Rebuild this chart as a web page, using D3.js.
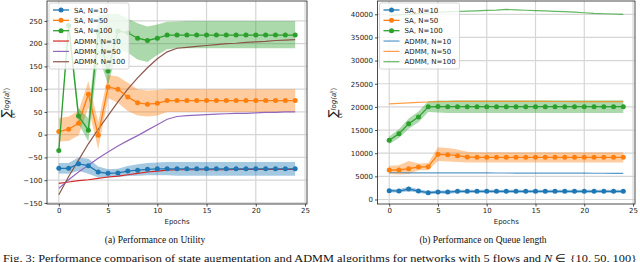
<!DOCTYPE html>
<html>
<head>
<meta charset="utf-8">
<script src="https://cdn.jsdelivr.net/npm/d3@7"></script>
<style>
body { margin: 0; background: #fff; }
svg { display: block; font-family: "DejaVu Sans", sans-serif; }
</style>
</head>
<body>
<div class="chart"></div>
<script>
var epochs = [0,1,2,3,4,5,6,7,8,9,10,11,12,13,14,15,16,17,18,19,20,21,22,23,24];
var xTicks = [0, 5, 10, 15, 20, 25];

// (a) utility
var utilTicks = [-150, -100, -50, 0, 50, 100, 150, 200, 250];
var utilSA10   = [-74,-74,-64,-68,-82,-85,-84,-80,-78,-76,-75,-75,-75,-75,-75,-75,-75,-75,-75,-75,-75,-75,-75,-75,-75];
var utilSA10Hi = [-62,-62,-50,-53,-70,-76,-75,-69,-65,-62,-61,-60,-60,-60,-60,-60,-60,-60,-60,-60,-60,-60,-60,-60,-60];
var utilSA10Lo = [-85,-86,-79,-86,-94,-94,-93,-91,-90,-89,-89,-89,-90,-90,-90,-90,-90,-90,-90,-90,-90,-90,-90,-90,-90];
var utilSA50   = [7,12,25,89,-1,105,100,83,70,67,69,75,75,75,75,75,75,75,75,75,75,75,75,75,75];
var utilSA50Hi = [36,40,52,118,28,131,128,114,100,97,98,100,100,100,100,100,100,100,100,100,100,100,100,100,100];
var utilSA50Lo = [-15,-14,-2,60,-32,80,70,52,42,40,42,50,50,50,50,50,50,50,50,50,50,50,50,50,50];
var utilSA100   = [-35,240,41,10,225,140,228,224,212,207,212,219,219,219,219,219,219,219,219,219,219,219,219,219,219];
var utilSA100Hi = [-30,252,58,36,262,266,266,255,245,238,242,248,249,250,250,250,250,250,250,250,250,250,250,250,250];
var utilSA100Lo = [-40,228,24,-15,175,110,190,180,165,160,175,188,190,190,190,190,190,190,190,190,190,190,190,190,190];
var utilADMM10  = [-107,-104,-101,-99,-96,-93,-91,-88,-85,-82,-80,-78,-77,-77,-77,-77,-77,-77,-76,-76,-76,-76,-76,-76,-76];
var utilADMM50  = [-118,-99,-82,-67,-52,-38,-25,-13,-2,10,22,34,40,42,43,44,45,46,47,47,48,49,49,50,50];
var utilADMM100 = [-132,-92,-56,-20,12,42,72,100,125,147,167,182,190,192,194,196,198,200,201,203,204,205,207,208,209];

// (b) queue length
var queueTicks = [0, 5000, 10000, 15000, 20000, 25000, 30000, 35000, 40000];
var queueSA10   = [1900,1830,2270,1830,1470,1620,1600,1770,1770,1760,1760,1770,1770,1770,1770,1770,1770,1770,1770,1770,1770,1770,1770,1770,1770];
var queueSA10Hi = [2250,2200,2750,2200,1850,1950,1950,2100,2120,2120,2120,2130,2130,2130,2130,2130,2130,2130,2130,2130,2130,2130,2130,2130,2130];
var queueSA10Lo = [1550,1450,1800,1450,1100,1300,1250,1420,1420,1400,1400,1410,1410,1410,1410,1410,1410,1410,1410,1410,1410,1410,1410,1410,1410];
var queueSA50   = [6370,6370,6660,7020,7090,9760,9690,9470,9180,9110,9100,9100,9100,9100,9100,9100,9100,9100,9100,9100,9100,9100,9100,9100,9100];
var queueSA50Hi = [7300,7400,8300,7800,7900,11300,11100,10800,10300,10200,10200,10200,10200,10200,10200,10200,10200,10200,10200,10200,10200,10200,10200,10200,10200];
var queueSA50Lo = [5500,5400,5500,6300,6300,8300,8200,8100,8000,8000,8000,8000,8000,8000,8000,8000,8000,8000,8000,8000,8000,8000,8000,8000,8000];
var queueSA100   = [12800,14200,16380,17800,20020,20080,20050,20050,20050,20050,20050,20050,20050,20050,20050,20050,20050,20050,20050,20050,20050,20050,20050,20050,20050];
var queueSA100Hi = [13600,15200,17500,19000,21200,21400,21400,21450,21450,21450,21450,21450,21450,21450,21450,21450,21450,21450,21450,21450,21450,21450,21450,21450,21450];
var queueSA100Lo = [12000,13300,15300,16700,18900,18800,18700,18700,18700,18700,18700,18700,18700,18700,18700,18700,18700,18700,18700,18700,18700,18700,18700,18700,18700];
var queueADMM10  = [5780,5775,5770,5765,5760,5755,5750,5745,5740,5735,5730,5725,5720,5715,5710,5705,5700,5695,5690,5685,5680,5675,5670,5660,5650];
var queueADMM50  = [20650,20760,20860,20960,21060,21150,21170,21180,21190,21200,21200,21200,21200,21190,21190,21180,21180,21170,21170,21160,21160,21150,21150,21150,21150];
var queueADMM100 = [39700,39850,40000,40150,40300,40420,40520,40600,40680,40760,40840,40920,41050,40970,40880,40800,40720,40640,40560,40450,40330,40200,40120,40060,40000];

var blue = "#1f77b4", orange = "#ff7f0e", green = "#2ca02c",
    red = "#d62728", purple = "#9467bd", brown = "#8c564b";

var svg = d3.select(".chart")
  .append("svg")
  .attr("width", 640)
  .attr("height", 262);

function drawPanel(p) {
  var x = d3.scaleLinear().domain([-1.2, 25.2]).range([p.left, p.right]);
  var y = d3.scaleLinear().domain(p.yDomain).range([p.bottom, p.top]);
  var g = svg.append("g");

  // grid
  g.selectAll(".vgrid").data(xTicks).enter().append("line")
    .attr("x1", d => x(d)).attr("x2", d => x(d))
    .attr("y1", p.top).attr("y2", p.bottom)
    .attr("stroke", "#d6d6d6").attr("stroke-width", 1.2);
  g.selectAll(".hgrid").data(p.yTicks).enter().append("line")
    .attr("x1", p.left).attr("x2", p.right)
    .attr("y1", d => y(d)).attr("y2", d => y(d))
    .attr("stroke", "#d6d6d6").attr("stroke-width", 1.2);

  var area = d3.area()
    .x((d, i) => x(epochs[i]))
    .y0(d => y(d[0]))
    .y1(d => y(d[1]));
  var line = d3.line()
    .x((d, i) => x(epochs[i]))
    .y(d => y(d));

  p.sa.forEach(function(s) {
    g.append("path")
      .datum(s.lo.map((v, i) => [v, s.hi[i]]))
      .attr("d", area)
      .attr("fill", s.color)
      .attr("fill-opacity", 0.4);
  });

  p.admm.forEach(function(s) {
    g.append("path")
      .datum(s.values)
      .attr("d", line)
      .attr("fill", "none")
      .attr("stroke", s.color)
      .attr("stroke-opacity", p.admmOpacity)
      .attr("stroke-width", 1.2);
  });

  p.sa.forEach(function(s) {
    g.append("path")
      .datum(s.values)
      .attr("d", line)
      .attr("fill", "none")
      .attr("stroke", s.color)
      .attr("stroke-width", 1.3);
    g.selectAll(null).data(s.values).enter().append("circle")
      .attr("cx", (d, i) => x(epochs[i]))
      .attr("cy", d => y(d))
      .attr("r", 2.5)
      .attr("fill", s.color);
  });

  // axes
  var ax = g.append("g")
    .attr("transform", "translate(0," + p.bottom + ")")
    .call(d3.axisBottom(x).tickValues(xTicks).tickSize(2.5).tickPadding(2));
  var ay = g.append("g")
    .attr("transform", "translate(" + p.left + ",0)")
    .call(d3.axisLeft(y).tickValues(p.yTicks).tickSize(2.5).tickPadding(2).tickFormat(d3.format("d")));
  [ax, ay].forEach(function(a) {
    a.select(".domain").remove();
    a.selectAll("text").attr("font-size", 7).attr("font-family", "DejaVu Sans").attr("fill", "#222");
    a.selectAll("line").attr("stroke", "#222").attr("stroke-width", 0.8);
  });

  g.append("rect")
    .attr("x", p.left).attr("y", p.top)
    .attr("width", p.right - p.left).attr("height", p.bottom - p.top)
    .attr("fill", "none").attr("stroke", "#222").attr("stroke-width", 0.8);

  g.append("text")
    .attr("x", (p.left + p.right) / 2).attr("y", 224)
    .attr("text-anchor", "middle").attr("font-size", 7).attr("fill", "#222")
    .text("Epochs");

  // y label: sum_{i,k} log(a_i^k)
  var yl = g.append("text")
    .attr("transform", "translate(" + p.yLabelX + ",103) rotate(-90)")
    .attr("text-anchor", "middle").attr("fill", "#222");
  yl.append("tspan").attr("font-size", 12).text("∑");
  yl.append("tspan").attr("font-size", 5).attr("dx", -9).attr("dy", 4.5).text("i,k");
  yl.append("tspan").attr("font-size", 7).attr("font-style", "italic").attr("dx", 2).attr("dy", -6).text("log(a");
  yl.append("tspan").attr("font-size", 4.5).attr("font-style", "italic").attr("dy", 1.5).text("i");
  yl.append("tspan").attr("font-size", 4.5).attr("font-style", "italic").attr("dx", -1.5).attr("dy", -4.5).text("k");
  yl.append("tspan").attr("font-size", 7).attr("dy", 3).text(")");

  // legend
  var lx = p.left + 2;
  var leg = g.append("g");
  leg.append("rect")
    .attr("x", lx).attr("y", 3).attr("width", 80).attr("height", 66).attr("rx", 2)
    .attr("fill", "#fff").attr("fill-opacity", 0.8)
    .attr("stroke", "#cccccc").attr("stroke-width", 0.8);
  var items = p.sa.map(s => ({label: s.label, color: s.color, marker: true}))
    .concat(p.admm.map(s => ({label: s.label, color: s.color, marker: false})));
  items.forEach(function(it, i) {
    var ly = 10 + i * 10.35;
    leg.append("line")
      .attr("x1", lx + 4).attr("x2", lx + 20)
      .attr("y1", ly).attr("y2", ly)
      .attr("stroke", it.color)
      .attr("stroke-opacity", it.marker ? 1 : p.admmOpacity)
      .attr("stroke-width", it.marker ? 1.3 : 1.2);
    if (it.marker) {
      leg.append("circle").attr("cx", lx + 12).attr("cy", ly).attr("r", 2.5).attr("fill", it.color);
    }
    leg.append("text")
      .attr("x", lx + 25).attr("y", ly + 2.5)
      .attr("font-size", 7).attr("fill", "#222")
      .text(it.label);
  });

  svg.append("text")
    .attr("x", p.captionX).attr("y", 243)
    .attr("text-anchor", "middle")
    .attr("font-family", "Liberation Serif").attr("font-size", 9.5).attr("fill", "#111")
    .text(p.caption);
}

drawPanel({
  left: 47, right: 307, top: 1, bottom: 204,
  yDomain: [-152.3, 293.8], yTicks: utilTicks, yLabelX: 10, admmOpacity: 1,
  captionX: 155, caption: "(a) Performance on Utility",
  sa: [
    {label: "SA, N=10", color: blue, values: utilSA10, hi: utilSA10Hi, lo: utilSA10Lo},
    {label: "SA, N=50", color: orange, values: utilSA50, hi: utilSA50Hi, lo: utilSA50Lo},
    {label: "SA, N=100", color: green, values: utilSA100, hi: utilSA100Hi, lo: utilSA100Lo}
  ],
  admm: [
    {label: "ADMM, N=10", color: red, values: utilADMM10},
    {label: "ADMM, N=50", color: purple, values: utilADMM50},
    {label: "ADMM, N=100", color: brown, values: utilADMM100}
  ]
});

drawPanel({
  left: 377.5, right: 635, top: 1, bottom: 204,
  yDomain: [-972, 42873], yTicks: queueTicks, yLabelX: 337, admmOpacity: 0.75,
  captionX: 483, caption: "(b) Performance on Queue length",
  sa: [
    {label: "SA, N=10", color: blue, values: queueSA10, hi: queueSA10Hi, lo: queueSA10Lo},
    {label: "SA, N=50", color: orange, values: queueSA50, hi: queueSA50Hi, lo: queueSA50Lo},
    {label: "SA, N=100", color: green, values: queueSA100, hi: queueSA100Hi, lo: queueSA100Lo}
  ],
  admm: [
    {label: "ADMM, N=10", color: blue, values: queueADMM10},
    {label: "ADMM, N=50", color: orange, values: queueADMM50},
    {label: "ADMM, N=100", color: green, values: queueADMM100}
  ]
});

var fig = svg.append("text")
  .attr("x", 3).attr("y", 262)
  .attr("font-family", "Liberation Serif").attr("font-size", 11).attr("fill", "#111")
  .attr("textLength", 634).attr("lengthAdjust", "spacingAndGlyphs");
fig.append("tspan").text("Fig. 3: Performance comparison of state augmentation and ADMM algorithms for networks with 5 flows and ");
fig.append("tspan").attr("font-style", "italic").text("N");
fig.append("tspan").text(" ∈ {10, 50, 100}");
</script>
</body>
</html>
